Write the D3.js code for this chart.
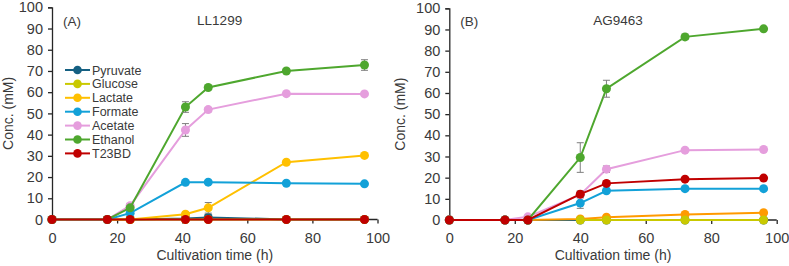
<!DOCTYPE html>
<html>
<head>
<meta charset="utf-8">
<script src="https://cdn.jsdelivr.net/npm/d3@7"></script>
<style>
  body { margin: 0; background: #fff; }
  svg text { font-family: "Liberation Sans", Arial, sans-serif; fill: #3a3a3a; }
</style>
</head>
<body>
<svg id="chart" width="789" height="266"></svg>
<script>
// ---- data ----
const seriesNames = ["Pyruvate", "Glucose", "Lactate", "Formate", "Acetate", "Ethanol", "T23BD"];

// panel A, LL1299
const timeA = [0, 17, 24, 41, 48, 72, 96];
const pyruvateA = [0, 0, 0, 0.5, 1, 0, 0];
const glucoseA = [0, 0, 0, 0, 0, 0, 0];
const lactateA = [0, 0, 0, 2.5, 5.5, 27, 30.2];
const formateA = [0, 0, 3, 17.5, 17.6, 17.1, 16.8];
const acetateA = [0, 0, 6.5, 42.2, 51.8, 59.3, 59.2];
const ethanolA = [0, 0, 5.5, 53, 62.2, 70, 72.8];
const t23bdA = [0, 0, 0, 0, 0, 0, 0];
const pyruvateErrA = [0, 0, 0, 0.3, 1.5, 0, 0];
const lactateErrA = [0, 0, 0, 1, 2.5, 0.5, 0.5];
const formateErrA = [0, 0, 0.5, 0.5, 0.5, 0.5, 0.5];
const acetateErrA = [0, 0, 1, 3, 1, 0.5, 0.5];
const ethanolErrA = [0, 0, 1, 2.5, 0.8, 1, 2.5];

// panel B, AG9463
const timeB = [0, 17, 24, 40, 48, 72, 96];
const pyruvateB = [0, 0, 0, 0, 0, 0, 0];
const glucoseB = [null, null, null, 0, 0, 0, 0];
const lactateB = [0, 0, 0, 0.5, 1.3, 2.6, 3.4];
const formateB = [0, 0, 0, 8, 13.8, 14.8, 14.8];
const acetateB = [0, 0, 1.5, 12, 24, 33, 33.3];
const ethanolB = [0, 0, 0, 29.5, 62, 86.5, 90.3];
const t23bdB = [0, 0, 0, 12.2, 17.3, 19.3, 19.8];
const formateErrB = [0, 0, 0, 2.5, 0.8, 0.5, 0.5];
const acetateErrB = [0, 0, 0.5, 1.5, 1.5, 0.5, 0.5];
const ethanolErrB = [0, 0, 0, 7, 4, 1.3, 0.5];
const t23bdErrB = [0, 0, 0, 1.5, 1.2, 0.5, 0.5];

const xTicks = [0, 20, 40, 60, 80, 100];
const yTicks = [0, 10, 20, 30, 40, 50, 60, 70, 80, 90, 100];

const colorsA = { Pyruvate: "#156082", Glucose: "#c9c900", Lactate: "#ffc000", Formate: "#12a1d8",
                  Acetate: "#e59edd", Ethanol: "#4ea72e", T23BD: "#c00000" };
const colorsB = Object.assign({}, colorsA, { Lactate: "#ff9a00" });

const panels = [
  { tag: "(A)", title: "LL1299", time: timeA, colors: colorsA, x0: 52, x1: 377.5, y0: 219.5, y1: 7.3, labX: 8,
    order: ["Pyruvate", "Glucose", "Lactate", "Formate", "Acetate", "Ethanol", "T23BD"],
    values: { Pyruvate: pyruvateA, Glucose: glucoseA, Lactate: lactateA, Formate: formateA,
              Acetate: acetateA, Ethanol: ethanolA, T23BD: t23bdA },
    errors: { Pyruvate: pyruvateErrA, Lactate: lactateErrA, Formate: formateErrA,
              Acetate: acetateErrA, Ethanol: ethanolErrA },
    legend: true },
  { tag: "(B)", title: "AG9463", time: timeB, colors: colorsB, x0: 449.3, x1: 776.7, y0: 220, y1: 8.3, labX: 400,
    order: ["Pyruvate", "Lactate", "Glucose", "Formate", "Acetate", "Ethanol", "T23BD"],
    values: { Pyruvate: pyruvateB, Glucose: glucoseB, Lactate: lactateB, Formate: formateB,
              Acetate: acetateB, Ethanol: ethanolB, T23BD: t23bdB },
    errors: { Formate: formateErrB, Acetate: acetateErrB, Ethanol: ethanolErrB, T23BD: t23bdErrB },
    legend: false }
];

const svg = d3.select("#chart");

panels.forEach(function (p) {
  const x = d3.scaleLinear().domain([0, 100]).range([p.x0, p.x1]);
  const y = d3.scaleLinear().domain([0, 100]).range([p.y0, p.y1]);
  const g = svg.append("g");

  // axes
  const yAxis = g.append("g").attr("transform", "translate(" + p.x0 + ",0)")
    .call(d3.axisLeft(y).tickValues(yTicks).tickSize(4).tickPadding(5));
  const xAxis = g.append("g").attr("transform", "translate(0," + p.y0 + ")")
    .call(d3.axisBottom(x).tickValues(xTicks).tickSize(4).tickPadding(9));
  [yAxis, xAxis].forEach(function (a) {
    a.select(".domain").attr("stroke", "#262626").attr("stroke-width", 1.3);
    a.selectAll(".tick line").attr("stroke", "#262626").attr("stroke-width", 1.3);
    a.selectAll("text").style("font-size", "14.5px").style("fill", "#3a3a3a");
  });
  xAxis.select(".domain").attr("d", "M" + p.x0 + ",0H" + p.x1);

  g.append("text").attr("x", (p.x0 + p.x1) / 2).attr("y", 260).attr("text-anchor", "middle")
    .style("font-size", "14px").text("Cultivation time (h)");
  g.append("text").attr("transform", "translate(" + (p.labX + 5) + "," + ((p.y0 + p.y1) / 2) + ") rotate(-90)")
    .attr("text-anchor", "middle").style("font-size", "14px").text("Conc. (mM)");
  g.append("text").attr("x", p.x0 + 11).attr("y", 26).style("font-size", "13.5px").text(p.tag);
  g.append("text").attr("x", x(51.5)).attr("y", 25).attr("text-anchor", "middle")
    .style("font-size", "13.5px").text(p.title);

  const line = d3.line().defined(d => d.v !== null).x(d => x(d.t)).y(d => y(d.v));

  p.order.forEach(function (name) {
    const pts = p.time.map((t, i) => ({ t: t, v: p.values[name][i], e: p.errors[name] ? p.errors[name][i] : 0 }));
    const col = p.colors[name];
    const s = g.append("g");
    s.append("path").datum(pts).attr("d", line).attr("fill", "none")
      .attr("stroke", col).attr("stroke-width", 2);
    const eb = pts.filter(d => d.v !== null && d.e > 0.6);
    s.selectAll(".eb").data(eb).join("path").attr("fill", "none")
      .attr("stroke", "#7f7f7f").attr("stroke-width", 1)
      .attr("d", d => "M" + (x(d.t) - 3.5) + "," + y(d.v + d.e) + "h7M" + x(d.t) + "," + y(d.v + d.e) +
        "V" + y(d.v - d.e) + "M" + (x(d.t) - 3.5) + "," + y(d.v - d.e) + "h7");
    s.selectAll("circle").data(pts.filter(d => d.v !== null)).join("circle")
      .attr("cx", d => x(d.t)).attr("cy", d => y(d.v)).attr("r", 4.5).attr("fill", col);
  });

  if (p.legend) {
    const lg = g.append("g");
    seriesNames.forEach(function (name, i) {
      const ly = 70 + i * 13.9;
      lg.append("line").attr("x1", 65).attr("x2", 90).attr("y1", ly).attr("y2", ly)
        .attr("stroke", p.colors[name]).attr("stroke-width", 2);
      lg.append("circle").attr("cx", 77.5).attr("cy", ly).attr("r", 4.3).attr("fill", p.colors[name]);
      lg.append("text").attr("x", 92).attr("y", ly + 4.5).style("font-size", "12.5px")
        .attr("textLength", null).text(name);
    });
  }
});
</script>
</body>
</html>
